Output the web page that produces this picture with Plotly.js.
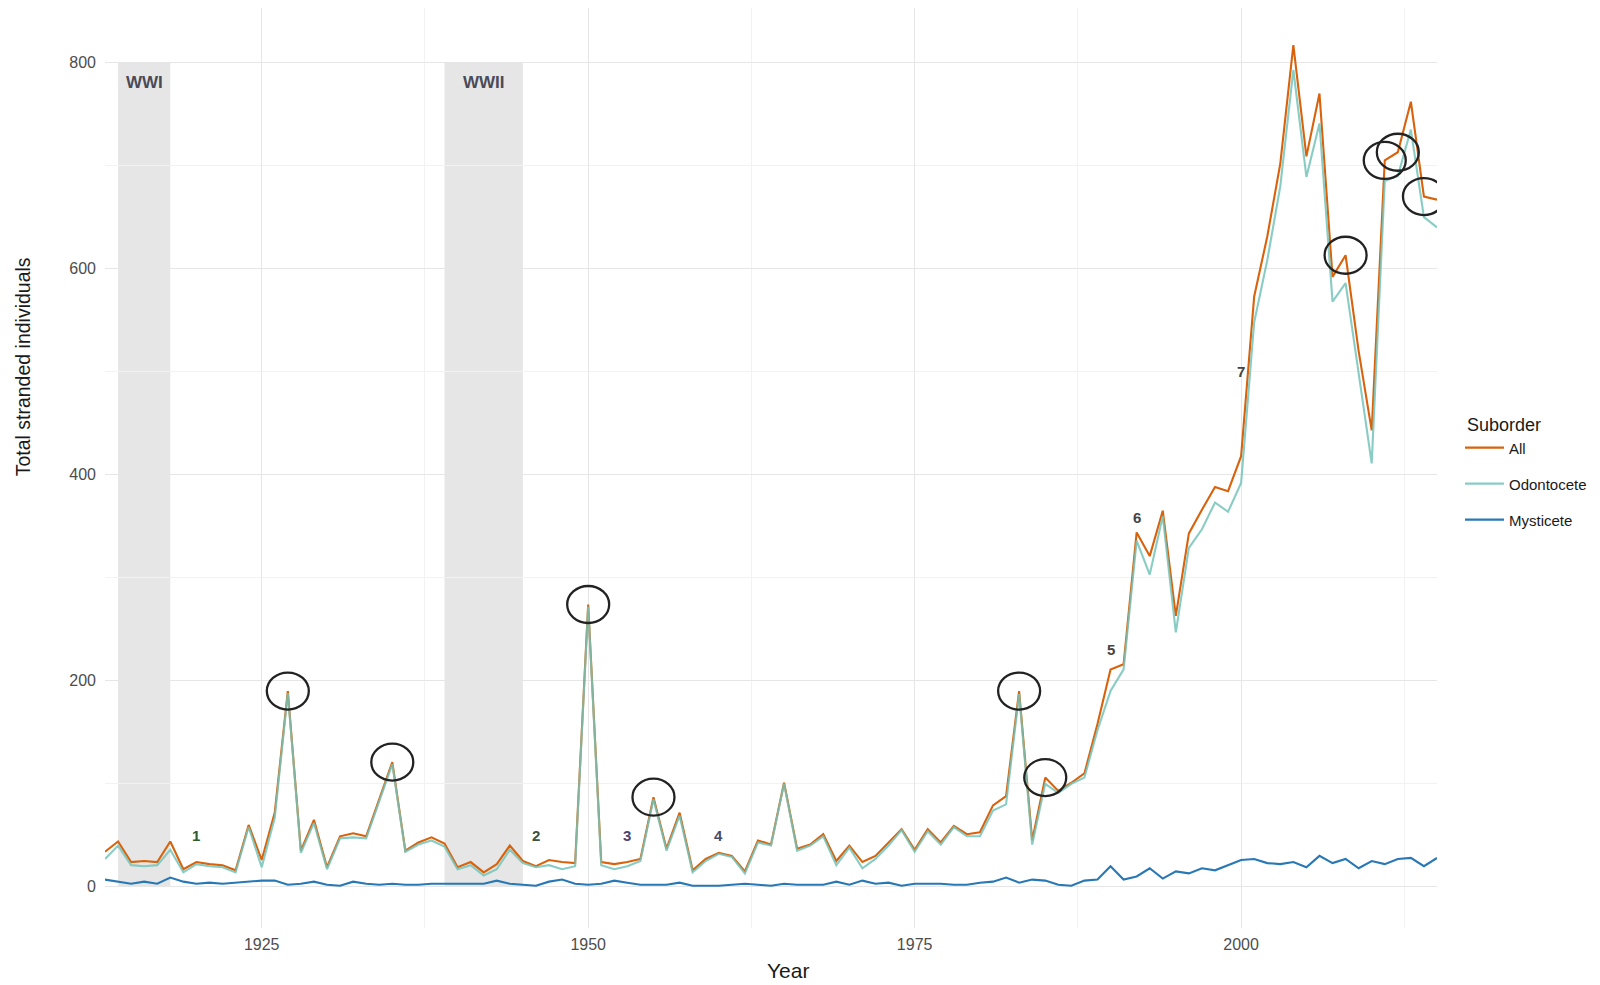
<!DOCTYPE html>
<html>
<head>
<meta charset="utf-8">
<script src="https://cdn.plot.ly/plotly-3.0.1.min.js"></script>
<style>
  html, body { margin: 0; padding: 0; background: #ffffff; }
  #chart { width: 1600px; height: 985px; }
</style>
</head>
<body>
<div id="chart"></div>
<script>
// Annual cetacean strandings, 1913-2015
const years = [
  1913, 1914, 1915, 1916, 1917, 1918, 1919, 1920, 1921, 1922,
  1923, 1924, 1925, 1926, 1927, 1928, 1929, 1930, 1931, 1932,
  1933, 1934, 1935, 1936, 1937, 1938, 1939, 1940, 1941, 1942,
  1943, 1944, 1945, 1946, 1947, 1948, 1949, 1950, 1951, 1952,
  1953, 1954, 1955, 1956, 1957, 1958, 1959, 1960, 1961, 1962,
  1963, 1964, 1965, 1966, 1967, 1968, 1969, 1970, 1971, 1972,
  1973, 1974, 1975, 1976, 1977, 1978, 1979, 1980, 1981, 1982,
  1983, 1984, 1985, 1986, 1987, 1988, 1989, 1990, 1991, 1992,
  1993, 1994, 1995, 1996, 1997, 1998, 1999, 2000, 2001, 2002,
  2003, 2004, 2005, 2006, 2007, 2008, 2009, 2010, 2011, 2012,
  2013, 2014, 2015
];

// Total stranded individuals per year
const allVals = [
  34, 44, 24, 25, 24, 44, 17, 24, 22, 21,
  16, 60, 26, 72, 190, 35, 65, 19, 49, 52,
  49, 85, 121, 35, 43, 48, 42, 19, 24, 14,
  22, 40, 25, 20, 26, 24, 23, 274, 24, 22,
  24, 27, 87, 37, 72, 16, 27, 33, 30, 15,
  45, 41, 101, 37, 41, 51, 25, 40, 24, 30,
  43, 56, 36, 56, 43, 59, 51, 53, 79, 88,
  190, 45, 106, 93, 101, 110, 158, 211, 216, 344,
  321, 365, 263, 343, 366, 388, 384, 418, 573, 631,
  702, 817, 709, 770, 592, 613, 520, 443, 705, 713,
  762, 670, 667
];

const odonVals = [
  27, 40, 21, 20, 21, 36, 14, 22, 20, 19,
  14, 58, 19, 67, 188, 33, 62, 17, 47, 48,
  47, 83, 119, 34, 41, 45, 39, 17, 21, 11,
  17, 36, 23, 19, 21, 17, 20, 272, 21, 17,
  20, 25, 85, 35, 69, 14, 25, 32, 29, 13,
  43, 40, 100, 35, 40, 49, 21, 38, 18, 27,
  40, 55, 34, 54, 41, 58, 49, 49, 74, 80,
  187, 41, 100, 91, 100, 106, 152, 190, 211, 336,
  303, 360, 247, 329, 347, 373, 364, 392, 548, 608,
  680, 793, 689, 741, 568, 586, 500, 411, 685, 690,
  735, 650, 640
];

const mystVals = [
  7, 5, 3, 5, 3, 9, 5, 3, 4, 3,
  4, 5, 6, 6, 2, 3, 5, 2, 1, 5,
  3, 2, 3, 2, 2, 3, 3, 3, 3, 3,
  6, 3, 2, 1, 5, 7, 3, 2, 3, 6,
  4, 2, 2, 2, 4, 1, 1, 1, 2, 3,
  2, 1, 3, 2, 2, 2, 5, 2, 6, 3,
  4, 1, 3, 3, 3, 2, 2, 4, 5, 9,
  4, 7, 6, 2, 1, 6, 7, 20, 7, 10,
  18, 8, 15, 13, 18, 16, 21, 26, 27, 23,
  22, 24, 19, 30, 23, 27, 18, 25, 22, 27,
  28, 20, 28
];

// Years whose totals are ringed
const circledYears = [1927, 1935, 1950, 1955, 1983, 1985, 2008, 2011, 2012, 2014];

// World war periods
const warNames = ['WWI', 'WWII'];
const warStart = [1914, 1939];
const warEnd = [1918, 1945];

// Numbered notes: text, year and count where each sits
const noteText = ['1', '2', '3', '4', '5', '6', '7'];
const noteYears = [1920, 1946, 1953, 1960, 1990, 1992, 2000];
const noteCounts = [50, 50, 50, 50, 230, 358, 500];
const noteColors = ['#2f5a30', '#3e503e', '#4a4470', '#4a4a66', '#444444', '#444444', '#444444'];

const FONT = 'Liberation Sans, Arial, sans-serif';

const traces = [
  { x: years, y: allVals, name: 'All', type: 'scatter', mode: 'lines',
    legendgroup: 'g1', line: { color: '#d9620c', width: 2.1 } },
  { x: years, y: odonVals, name: 'Odontocete', type: 'scatter', mode: 'lines',
    legendgroup: 'g2', line: { color: '#74c3b9', width: 2.1 }, opacity: 0.85 },
  { x: years, y: mystVals, name: 'Mysticete', type: 'scatter', mode: 'lines',
    legendgroup: 'g3', line: { color: '#2778b5', width: 2.1 } }
];

const shapes = [];
warStart.forEach((s, i) => {
  shapes.push({
    type: 'rect', xref: 'x', yref: 'y',
    x0: s, x1: warEnd[i], y0: 0, y1: 800,
    fillcolor: '#e6e6e6', line: { width: 0 }, layer: 'below'
  });
});
circledYears.forEach(yr => {
  const v = allVals[years.indexOf(yr)];
  shapes.push({
    type: 'circle', xref: 'x', yref: 'y',
    xsizemode: 'pixel', ysizemode: 'pixel',
    xanchor: yr, yanchor: v,
    x0: -21, x1: 21, y0: -18.5, y1: 18.5,
    line: { color: '#222222', width: 2.3 }, layer: 'above'
  });
});

const annotations = [];
warNames.forEach((name, i) => {
  annotations.push({
    x: (warStart[i] + warEnd[i]) / 2, y: 781, xref: 'x', yref: 'y',
    text: name, showarrow: false,
    font: { family: FONT, size: 17, color: '#4a4a58', weight: 700 }
  });
});
noteText.forEach((t, i) => {
  annotations.push({
    x: noteYears[i], y: noteCounts[i], xref: 'x', yref: 'y',
    text: t, showarrow: false,
    font: { family: FONT, size: 15, color: noteColors[i], weight: 700 }
  });
});
// axis titles
annotations.push({
  text: 'Total stranded individuals', textangle: -90,
  xref: 'paper', yref: 'paper', x: -0.0619, y: 0.61,
  xanchor: 'center', yanchor: 'middle', showarrow: false,
  font: { family: FONT, size: 19.5, color: '#1a1a1a' }
});
annotations.push({
  text: 'Year',
  xref: 'paper', yref: 'paper', x: 0.5128, y: -0.0467,
  xanchor: 'center', yanchor: 'middle', showarrow: false,
  font: { family: FONT, size: 21, color: '#1a1a1a' }
});

const layout = {
  width: 1600, height: 985, autosize: false,
  margin: { l: 105, r: 163, t: 8, b: 57, pad: 0 },
  paper_bgcolor: '#ffffff', plot_bgcolor: '#ffffff',
  font: { family: FONT, color: '#4d4d4d' },
  showlegend: true,
  legend: {
    x: 1.021, y: 0.5652, xanchor: 'left', yanchor: 'top',
    traceorder: 'grouped', tracegroupgap: 13.5,
    itemwidth: 42, indentation: -8,
    title: { text: 'Suborder', font: { family: FONT, size: 18, color: '#1a1a1a' } },
    font: { family: FONT, size: 15, color: '#1a1a1a' },
    bgcolor: 'rgba(0,0,0,0)', borderwidth: 0
  },
  xaxis: {
    range: [1913, 2015], tick0: 1925, dtick: 25,
    showgrid: true, gridcolor: '#e6e6e6', gridwidth: 1,
    minor: { tick0: 1925, dtick: 12.5, showgrid: true, gridcolor: '#f2f2f2', gridwidth: 1 },
    zeroline: false, showline: false, ticks: '',
    ticklabelstandoff: 5,
    tickfont: { family: FONT, size: 16, color: '#4d4d4d' }
  },
  yaxis: {
    range: [-40, 853], tick0: 0, dtick: 200,
    showgrid: true, gridcolor: '#e6e6e6', gridwidth: 1,
    minor: { tick0: 0, dtick: 100, showgrid: true, gridcolor: '#f2f2f2', gridwidth: 1 },
    zeroline: false, showline: false, ticks: '',
    ticklabelstandoff: 8,
    tickfont: { family: FONT, size: 16, color: '#4d4d4d' }
  },
  shapes: shapes,
  annotations: annotations
};

Plotly.newPlot('chart', traces, layout, { displayModeBar: false, staticPlot: true });
</script>
</body>
</html>
